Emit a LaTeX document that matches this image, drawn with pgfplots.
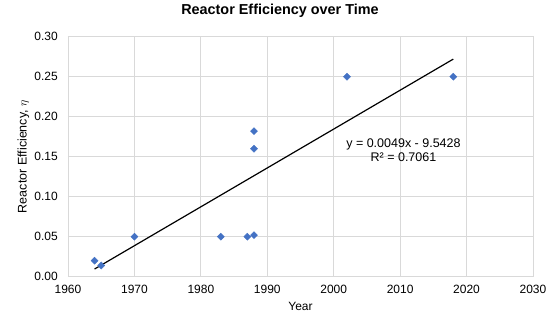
\documentclass[border=0pt]{standalone}
\usepackage{fontspec}
\setmainfont{Liberation Sans}
\usepackage{pgfplots}
\pgfplotsset{compat=1.18}
\definecolor{gridgray}{HTML}{D9D9D9}
\definecolor{xlblue}{HTML}{4472C4}
\begin{document}
\begin{tikzpicture}
\useasboundingbox (-68bp,-50.3bp) rectangle (492bp,276.7bp);
\begin{axis}[
  at={(0,0)}, anchor=south west,
  scale only axis,
  width=465bp, height=240bp,
  xmin=1960, xmax=2030, ymin=0, ymax=0.30,
  xtick={1960,1970,...,2030},
  ytick={0,0.05,0.10,0.15,0.20,0.25,0.30},
  major tick length=0pt,
  grid=major,
  major grid style={gridgray, line width=0.8bp},
  axis line style={gridgray, line width=0.8bp},
  /pgf/number format/assume math mode=true,
  xticklabel style={/pgf/number format/set thousands separator={}, inner sep=0pt, anchor=north, yshift=-8.3bp, font=\fontsize{12bp}{14bp}\selectfont},
  yticklabel style={/pgf/number format/fixed, /pgf/number format/fixed zerofill, /pgf/number format/precision=2, inner sep=0pt, anchor=east, xshift=-10bp, font=\fontsize{12bp}{14bp}\selectfont},
  title={Reactor Efficiency over Time},
  title style={at={(axis description cs:0.5,1)}, anchor=base, yshift=16bp, xshift=-20.5bp, inner sep=0pt, font=\bfseries\fontsize{14.4bp}{16bp}\selectfont},
  xlabel={Year},
  xlabel style={at={(axis description cs:0.5,0)}, anchor=base, yshift=-33.3bp, inner sep=0pt, font=\fontsize{12bp}{14bp}\selectfont},
  ylabel={Reactor Efficiency, $\eta$},
  ylabel style={at={(axis description cs:-0.0888,0.5)}, anchor=base, inner sep=0pt, font=\fontsize{12.5bp}{14bp}\selectfont},
  clip=false,
]
\addplot[only marks, mark=square*, mark size=2.5bp, mark options={rotate=45, fill=xlblue, draw=xlblue}] coordinates {
  (1964,0.020) (1965,0.014) (1970,0.050) (1983,0.050) (1987,0.050)
  (1988,0.052) (1988,0.160) (1988,0.182) (2002,0.250) (2018,0.250)
};
\addplot[black, line width=1.2bp, no marks] coordinates {(1964,0.0096) (2018,0.272)};
\node[align=center, font=\fontsize{12.5bp}{14bp}\selectfont, inner sep=0pt] at (axis cs:2010.5,0.158) {y = 0.0049x - 9.5428\\R² = 0.7061};
\end{axis}
\end{tikzpicture}
\end{document}
